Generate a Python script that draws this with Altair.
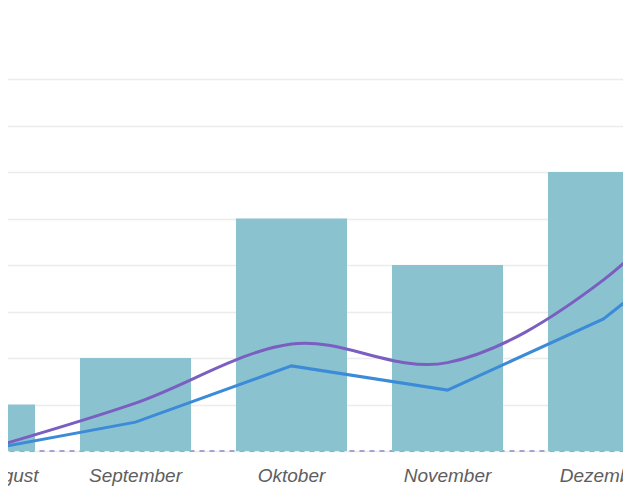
import altair as alt
import pandas as pd

months = ["August", "September", "Oktober", "November", "Dezember", "Januar"]
bar_months = ["August", "September", "Oktober", "November", "Dezember"]
bar_values = [1, 2, 5, 4, 6]
purple_values = [0, 1.03, 2.3, 1.9, 3.68, 7.0]
blue_values = [0, 0.62, 1.83, 1.31, 2.84, 5.5]
zero_values = [0, 0, 0, 0, 0, 0]

bars_df = pd.DataFrame({"month": bar_months, "value": bar_values})
purple_df = pd.DataFrame({"month": months, "value": purple_values})
blue_df = pd.DataFrame({"month": months, "value": blue_values})
zero_df = pd.DataFrame({"month": months, "value": zero_values})

x_scale = alt.Scale(domain=months, range=[-106.5, 829.5], paddingInner=0.288, paddingOuter=0.144)
y_scale = alt.Scale(domain=[0, 8], nice=False, zero=True)

x_axis = alt.Axis(title=None, domain=False, ticks=False, labelAngle=0,
                  labelFont="Liberation Sans", labelFontStyle="italic",
                  labelFontSize=19, labelColor="#5e5e5e", labelPadding=15,
                  labelFlush=30, labelOverlap=False, labelBound=False,
                  grid=False)
y_axis = alt.Axis(title=None, domain=False, ticks=False, labels=False, grid=True,
                  values=list(range(0, 9)),
                  gridColor="#ececec", gridWidth=1.5)


def xe():
    return alt.X("month:N", scale=x_scale, sort=months, axis=x_axis)


def ye():
    return alt.Y("value:Q", scale=y_scale, axis=y_axis)


bars = alt.Chart(bars_df).mark_bar(color="#8bc2d0").encode(x=xe(), y=ye())

zero_line = alt.Chart(zero_df).mark_line(color="#a3a3cf", strokeWidth=2, strokeDash=[5, 5]).encode(
    x=xe(), y=ye())

purple = alt.Chart(purple_df).mark_line(color="#7a5fc0", strokeWidth=3, interpolate="cardinal").encode(
    x=xe(), y=ye())

blue = alt.Chart(blue_df).mark_line(color="#3b8bd9", strokeWidth=3, interpolate="linear").encode(
    x=xe(), y=ye())

chart = alt.layer(zero_line, bars, blue, purple).properties(
    width=615, height=372,
    autosize=alt.AutoSizeParams(type="none"),
    padding={"left": 0, "right": 0, "top": 71, "bottom": 37},
).configure(background="white").configure_view(stroke=None)

chart.save("out.html", embed_options={"renderer": "svg", "actions": False})
